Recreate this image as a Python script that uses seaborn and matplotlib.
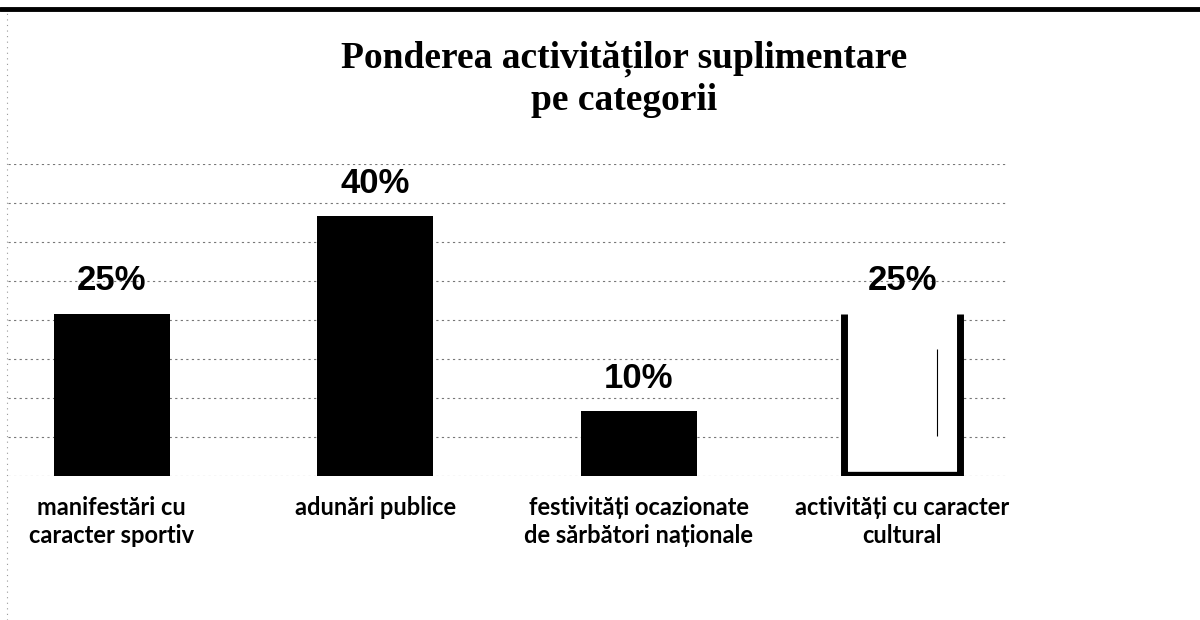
import matplotlib
matplotlib.use('Agg')
import pandas as pd
import matplotlib.pyplot as plt
import seaborn as sns
from matplotlib.ticker import MultipleLocator
from matplotlib.lines import Line2D

# chart data
categories = ['manifestări cu\ncaracter sportiv', 'adunări publice',
              'festivități ocazionate\nde sărbători naționale', 'activități cu caracter\ncultural']
shares = [25, 40, 10, 25]
bar_colors = ['black', 'black', 'black', 'white']

df = pd.DataFrame({'categorie': categories, 'pondere': shares})

sns.set_theme(style='white')
fig = plt.figure(figsize=(12, 6.2), dpi=100)
ax = fig.add_axes([0.007, 0.232, 0.831, 0.503])

sns.barplot(data=df, x='categorie', y='pondere', hue='categorie',
            palette=bar_colors, width=0.44, legend=False, ax=ax,
            edgecolor='none', linewidth=0, saturation=1)

# last bar is drawn hollow: thick left, right and bottom edges only
p = ax.patches[3]
x0, w, h = p.get_x(), p.get_width(), p.get_height()
ax.vlines([x0, x0 + w], 0, h, color='black', lw=5, zorder=3)
ax.hlines(0, x0, x0 + w, color='black', lw=6, zorder=3)
ax.vlines(x0 + 0.8 * w, h * 0.25, h * 0.78, color='black', lw=0.8, zorder=3)

for c in ax.containers:
    ax.bar_label(c, fmt='{:.0f}%', padding=12, fontsize=25, fontweight='heavy',
                 family='Liberation Sans', color='black')

ax.set_ylim(0, 48)
ax.yaxis.set_major_locator(MultipleLocator(6))
ax.grid(axis='y', color='#777777', linestyle=(0, (2, 3)), lw=0.8)
ax.set_axisbelow(True)
ax.set_yticklabels([])
ax.tick_params(axis='both', length=0)
ax.tick_params(axis='x', pad=14)
for lab in ax.get_xticklabels():
    lab.set_fontfamily('Lato')
    lab.set_fontweight('bold')
    lab.set_fontsize(17)
    lab.set_color('black')
    lab.set_multialignment('center')
    lab.set_linespacing(1.3)
ax.set_xlabel('')
ax.set_ylabel('')
sns.despine(ax=ax, left=True, bottom=True)

fig.text(0.52, 0.872, 'Ponderea activităților suplimentare\npe categorii',
         ha='center', va='center', fontsize=27, fontweight='bold',
         family='Liberation Serif', linespacing=1.2, color='black')

# scanned page border
fig.add_artist(Line2D([0, 1], [0.986, 0.986], color='black', lw=3.5))
fig.add_artist(Line2D([0.006, 0.006], [0, 0.98], color='#999999', lw=0.8,
                      linestyle=(0, (1, 4))))

fig.savefig('out.png', dpi=100)
